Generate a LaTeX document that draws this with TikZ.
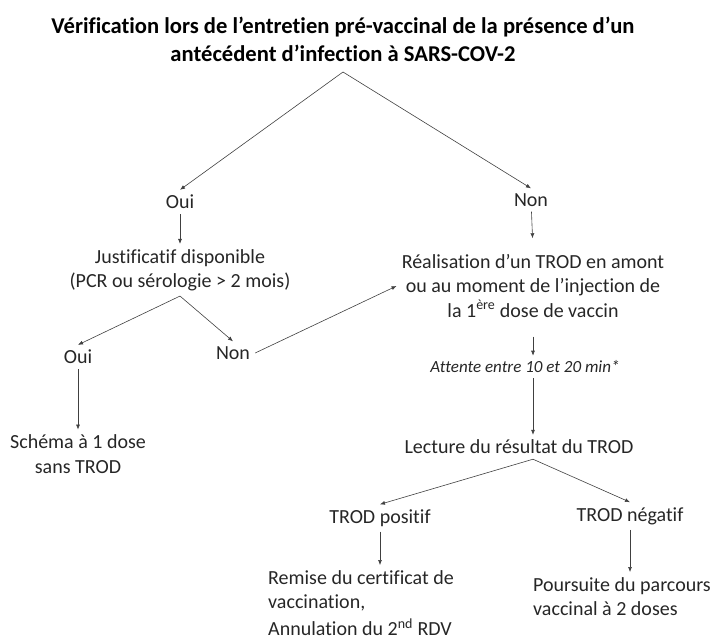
\documentclass[tikz,border=0pt]{standalone}
\usepackage{fontspec}
\setmainfont{Carlito}[Ligatures=NoCommon]
\usetikzlibrary{positioning,arrows.meta}
\tikzset{
	txt/.style={inner sep=5pt, text=black!85, align=center, font=\fontsize{20}{24.4}\selectfont},
	titre/.style={inner sep=5pt, text=black, align=center, font=\bfseries\fontsize{22.6}{28}\selectfont},
	note/.style={txt, font=\itshape\fontsize{17}{20}\selectfont},
	fl/.style={-{Latex[length=5pt,width=4pt]}, draw=black!75, line width=0.6pt},
}

\begin{document}
\begin{tikzpicture}[x=1pt,y=1pt]
	\useasboundingbox (0,0) rectangle (710,-644);
	%% titre
	\node[titre] (titre) at (343,-39) {Vérification lors de l’entretien pré-vaccinal de la présence d’un\\antécédent d’infection à SARS-COV-2};
	\coordinate (sommet) at (343,-72);
	%% branche oui
	\node[txt] (oui1) at (180,-202) {Oui};
	\node[txt] (justif) at (180,-270) {Justificatif disponible\\(PCR ou sérologie > 2 mois)};
	\node[txt] (oui2) at (78,-357) {Oui};
	\node[txt] (non2) at (233,-353) {Non};
	\node[txt] (schema) at (78,-454) {Schéma à 1 dose\\sans TROD};
	%% branche non
	\coordinate (axe) at (533,0);
	\node[txt] (non1) at (531,-200) {Non};
	\node[txt] (real) at (533,-286) {Réalisation d’un TROD en amont\\ou au moment de l’injection de\\la 1\textsuperscript{ère} dose de vaccin};
	\node[note] (attente) at (525,-367) {Attente entre 10 et 20 min*};
	\node[txt] (lecture) at (519,-447) {Lecture du résultat du TROD};
	\node[txt] (pos) at (380,-518) {TROD positif};
	\node[txt] (neg) at (630,-516) {TROD négatif};
	\node[txt, align=left, anchor=north west] (remise) at (263,-565) {Remise du certificat de\\vaccination,\\[3pt]Annulation du 2\textsuperscript{nd} RDV};
	\node[txt, align=left, anchor=north west] (pours) at (528,-572) {Poursuite du parcours\\vaccinal à 2 doses};
	% fleches
	\draw[fl] (sommet) -- (oui1.north);
	\draw[fl] (sommet) -- (non1.north);
	\draw[fl] (oui1) -- (justif);
	\draw[fl] (justif.south) -- (oui2.north);
	\draw[fl] (justif.south) -- (non2.north);
	\draw[fl] (oui2) -- (schema);
	\draw[fl] (non2.east) -- (real.west);
	\draw[fl, shorten >=11pt] (non1) -- (axe |- real.north);
	\draw[fl, shorten <=14pt] (axe |- real.south) -- (axe |- attente.north);
	\draw[fl] (axe |- attente.south) -- (axe |- lecture.north);
	\draw[fl] (axe |- lecture.south) -- (pos.north);
	\draw[fl] (axe |- lecture.south) -- (neg.north);
	\draw[fl] (pos) -- (pos |- remise.north);
	\draw[fl] (neg) -- (neg |- pours.north);
\end{tikzpicture}
\end{document}
